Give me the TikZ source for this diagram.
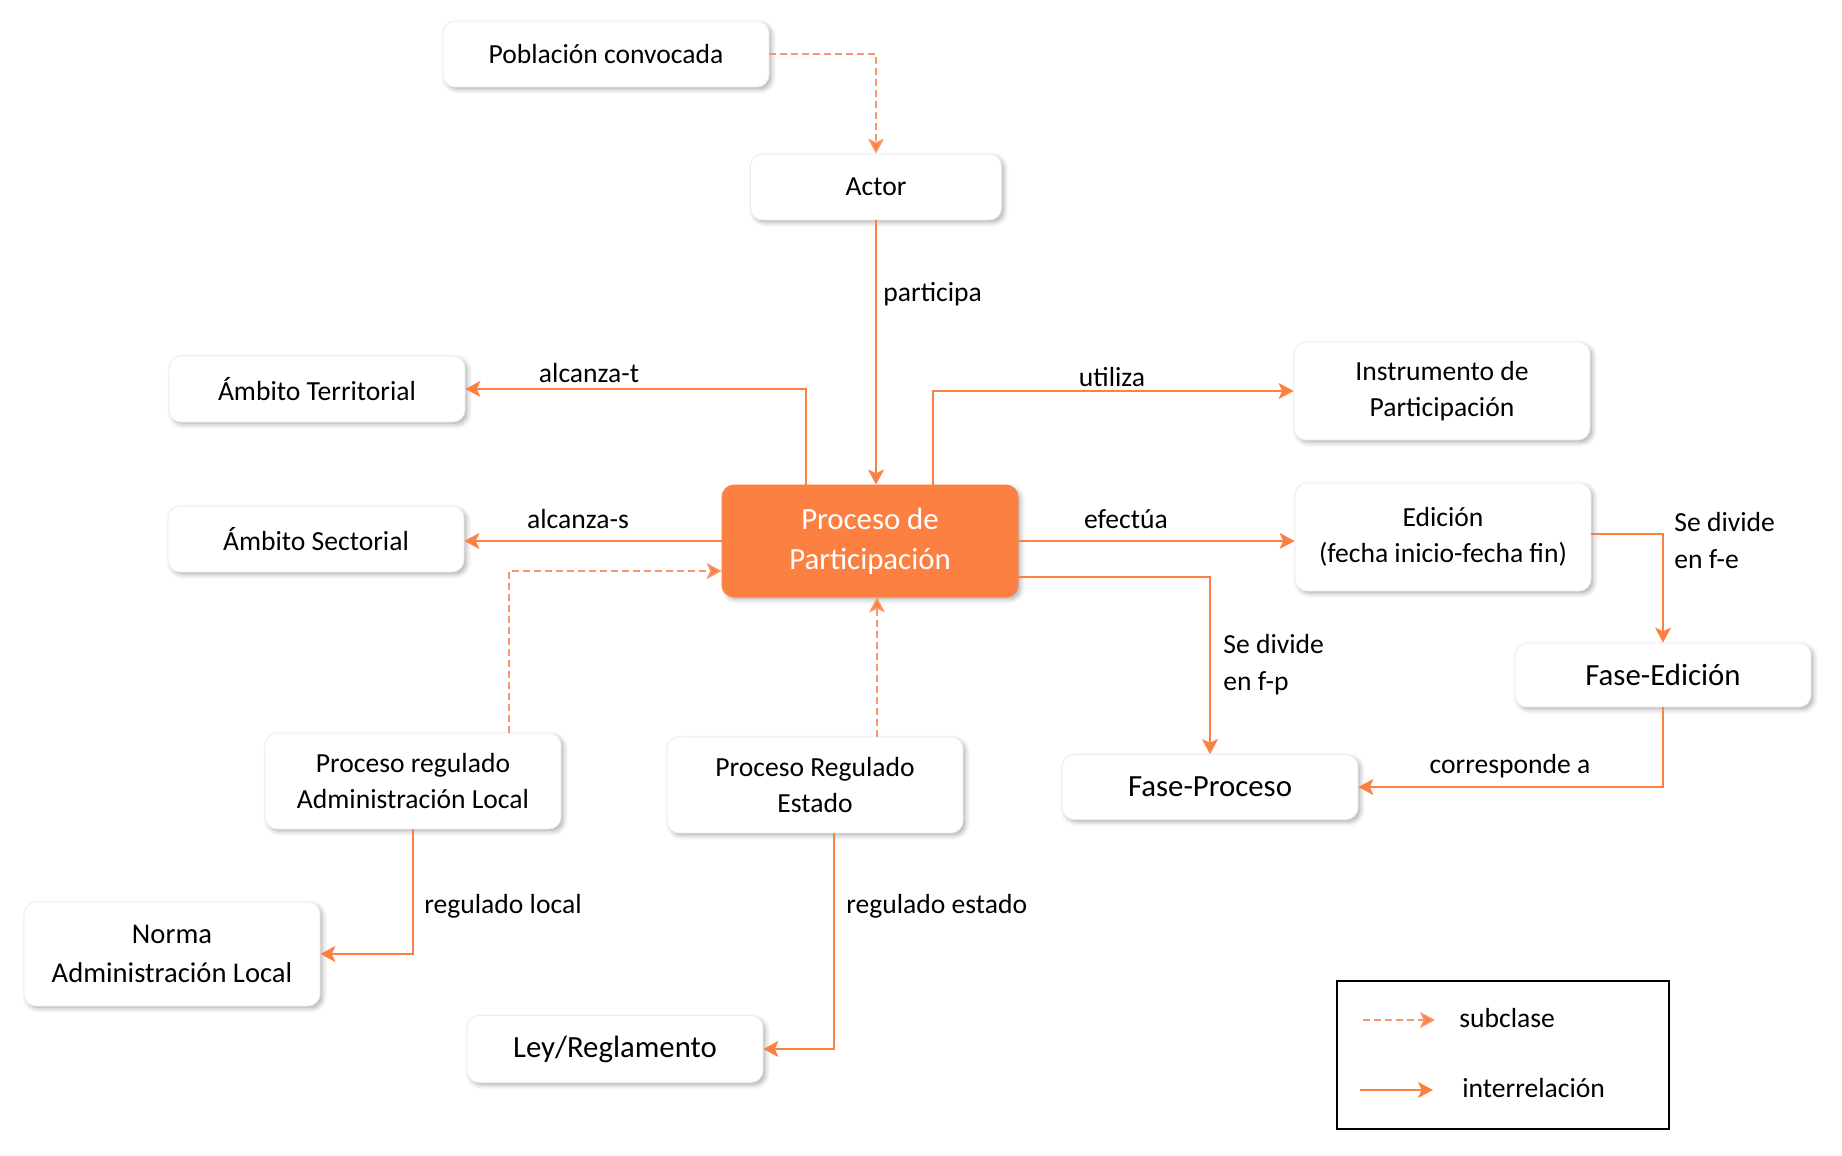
\documentclass[tikz,border=0pt]{standalone}
\usepackage{fontspec}
\setmainfont{Carlito}
\usepackage{xcolor}
\usetikzlibrary{arrows.meta,shadows.blur}

\definecolor{naranja}{RGB}{252,128,66}
\definecolor{naranjaclaro}{RGB}{250,150,110}

\tikzset{
  concepto/.style = {draw=gray!15, fill=white, rounded corners=6pt, align=center,
    minimum width=148pt, minimum height=33pt, inner sep=2pt,
    font=\fontsize{13.8}{18}\selectfont,
    blur shadow={shadow xshift=1.4pt, shadow yshift=-1.4pt, shadow opacity=30, shadow blur radius=2.2pt}},
  grande/.style = {font=\fontsize{15.4}{19}\selectfont},
  central/.style = {concepto, draw=naranja, fill=naranja, text=white, font=\fontsize{15.4}{20}\selectfont},
  etiqueta/.style = {font=\fontsize{13.8}{18.5}\selectfont, inner sep=0pt},
  rel/.style = {draw=naranja, line width=0.9pt, -{Stealth[length=7.5pt,width=8pt,inset=1.8pt]}},
  sub/.style = {draw=naranjaclaro, line width=0.8pt, dash pattern=on 3.5pt off 2pt, -{Stealth[length=7.5pt,width=8pt,inset=1.8pt,fill=naranja]}}
}

\begin{document}
\begin{tikzpicture}[x=0.5pt, y=-0.5pt]
\useasboundingbox (0,0) rectangle (1842,1156);

% conceptos
\node[concepto, minimum width=163pt] (pob) at (606,54) {Población convocada};
\node[concepto, minimum width=125.5pt] (actor) at (876,187) {Actor};
\node[concepto] (terr) at (317,389) {Ámbito Territorial};
\node[concepto, minimum height=49pt] (instr) at (1442,391) {Instrumento de\\Participación};
\node[concepto] (sect) at (316,539) {Ámbito Sectorial};
\node[central, minimum height=56pt] (pdp) at (870,541) {Proceso de\\Participación};
\node[concepto, minimum height=54pt] (edic) at (1443,537) {Edición\\(fecha inicio-fecha fin)};
\node[concepto, grande, minimum height=32pt] (fedic) at (1663,675) {Fase-Edición};
\node[concepto, grande, minimum height=32.5pt] (fproc) at (1210,787) {Fase-Proceso};
\node[concepto, minimum height=48pt] (pral) at (413,781) {Proceso regulado\\Administración Local};
\node[concepto, minimum height=48pt] (pre) at (815,785) {Proceso Regulado\\Estado};
\node[concepto, minimum height=52pt, font=\fontsize{14.3}{19.4}\selectfont] (norma) at (172,954) {Norma\\Administración Local};
\node[concepto, grande, minimum height=33.5pt] (ley) at (615,1049) {Ley/Reglamento};

% relaciones
\draw[sub] (pob.east) -| (actor.north);
\draw[rel] (actor.south) -- (actor.south |- pdp.north);
\draw[rel] ([xshift=-32pt]pdp.north) |- (terr.east);
\draw[rel] ([xshift=31.5pt]pdp.north) |- (instr.west);
\draw[rel] (pdp.west) -- (pdp.west -| sect.east);
\draw[rel] (pdp.east) -- (pdp.east -| edic.west);
\draw[rel] ([yshift=-18pt]pdp.east) -| (fproc.north);
\draw[rel] ([yshift=1.5pt]edic.east) -| (fedic.north);
\draw[rel] (fedic.south) |- (fproc.east);
\draw[sub] ([xshift=48pt]pral.north) |- ([yshift=-15pt]pdp.west);
\draw[sub] ([xshift=31pt]pre.north) -- ([xshift=31pt]pre.north |- pdp.south);
\draw[rel] (pral.south) |- (norma.east);
\draw[rel] ([xshift=9.5pt]pre.south) |- (ley.east);

% etiquetas
\node[etiqueta, anchor=west] (lpart) at (883,294) {participa};
\node[etiqueta] (lterr) at (589,373) {alcanza-t};
\node[etiqueta] (lutil) at (1112,377) {utiliza};
\node[etiqueta] (lsect) at (578,519) {alcanza-s};
\node[etiqueta] (lefec) at (1126,519) {efectúa};
\node[etiqueta, anchor=west, align=left] (lfp) at (1223,665) {Se divide\\en f-p};
\node[etiqueta, anchor=west, align=left] (lfe) at (1674,541) {Se divide\\en f-e};
\node[etiqueta] (lcorr) at (1510,766) {corresponde a};
\node[etiqueta, anchor=west] (lloc) at (424,906) {regulado local};
\node[etiqueta, anchor=west] (lest) at (846,906) {regulado estado};

% leyenda
\draw[line width=0.9pt] (1337,981) rectangle (1669,1129);
\coordinate (sub1) at (1363,1020);
\coordinate (sub2) at (1435,1020);
\coordinate (rel1) at (1360,1090);
\coordinate (rel2) at (1433,1090);
\draw[sub] (sub1) -- (sub2);
\draw[rel] (rel1) -- (rel2);
\node[etiqueta, anchor=west] (lsub) at (1459,1018) {subclase};
\node[etiqueta, anchor=west] (lrel) at (1462,1088) {interrelación};
\end{tikzpicture}
\end{document}
